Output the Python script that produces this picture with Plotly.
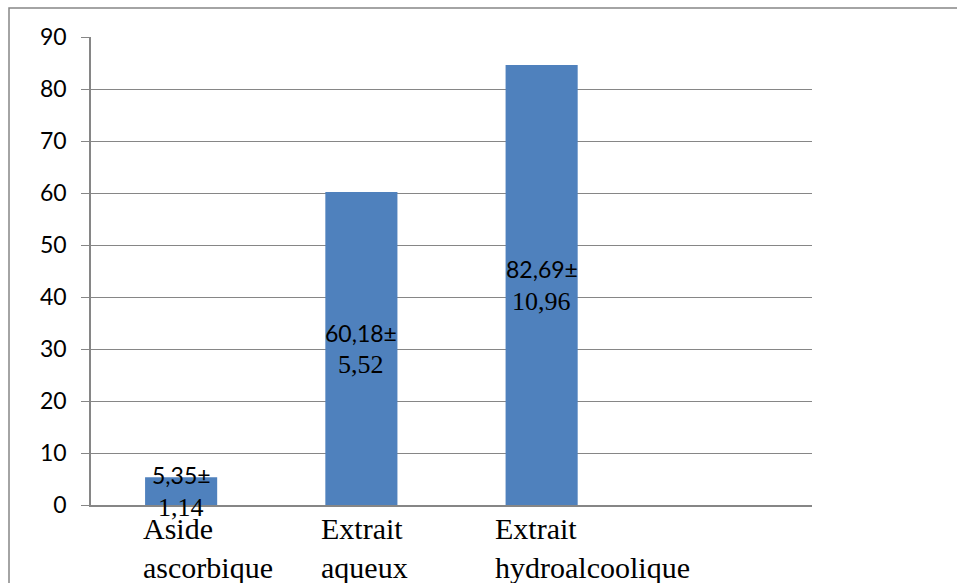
import plotly.graph_objects as go

# ---- data ----
categories = ["Aside<br>ascorbique", "Extrait<br>aqueux", "Extrait<br>hydroalcoolique"]
values = [5.35, 60.18, 84.6]
label_means = ["5,35±", "60,18±", "82,69±"]
label_sds = ["1,14", "5,52", "10,96"]
y_ticks = [0, 10, 20, 30, 40, 50, 60, 70, 80, 90]
cat_label_offsets = [-0.22, -0.235, -0.27]

W, H = 957, 583
L, R, T, B = 91, 145, 37, 78
PW = W - L - R
PH = H - T - B

GRID = "#868686"
BAR = "#4F81BD"
SERIF = "Liberation Serif"
SANS = "Lato"

x_pos = list(range(len(categories)))

fig = go.Figure(
    go.Bar(
        x=x_pos,
        y=values,
        width=0.4,
        marker=dict(color=BAR, line=dict(width=0)),
        hoverinfo="skip",
    )
)

annotations = []
for i, (v, m, s) in enumerate(zip(values, label_means, label_sds)):
    annotations.append(dict(
        x=i, y=v / 2, xref="x", yref="y", showarrow=False, text=m,
        font=dict(family=SANS, size=23, color="black"),
        xanchor="center", yanchor="middle", yshift=16,
    ))
    annotations.append(dict(
        x=i, y=v / 2, xref="x", yref="y", showarrow=False, text=s,
        font=dict(family=SERIF, size=26, color="black"),
        xanchor="center", yanchor="middle", yshift=-16,
    ))
for i, (c, off) in enumerate(zip(categories, cat_label_offsets)):
    annotations.append(dict(
        x=i + off, y=0, xref="x", yref="y", showarrow=False,
        text=c, font=dict(family=SERIF, size=30, color="black"),
        xanchor="left", yanchor="top", align="left", yshift=-5,
    ))

fig.update_layout(
    width=W, height=H,
    margin=dict(l=L, r=R, t=T, b=B, pad=0),
    paper_bgcolor="white", plot_bgcolor="white",
    showlegend=False,
    annotations=annotations,
    shapes=[dict(
        type="rect", xref="paper", yref="paper",
        x0=(9 - L) / PW, x1=1.5, y0=-0.5, y1=(H - B - 8) / PH,
        line=dict(color=GRID, width=1.5), fillcolor="rgba(0,0,0,0)", layer="below",
    )],
    xaxis=dict(
        range=[-0.5, 3.5], showticklabels=False, showgrid=False, zeroline=False,
        showline=True, linecolor=GRID, linewidth=1.5, ticks="", fixedrange=True,
    ),
    yaxis=dict(
        range=[0, 90], tickvals=y_ticks, showgrid=True, gridcolor=GRID, gridwidth=1.3,
        zeroline=False, showline=True, linecolor=GRID, linewidth=1.5,
        ticks="outside", ticklen=8, tickcolor=GRID, tickwidth=1.3,
        tickfont=dict(family=SANS, size=23, color="black"),
        ticklabelstandoff=10, fixedrange=True,
    ),
)

fig.write_html("out.html")
